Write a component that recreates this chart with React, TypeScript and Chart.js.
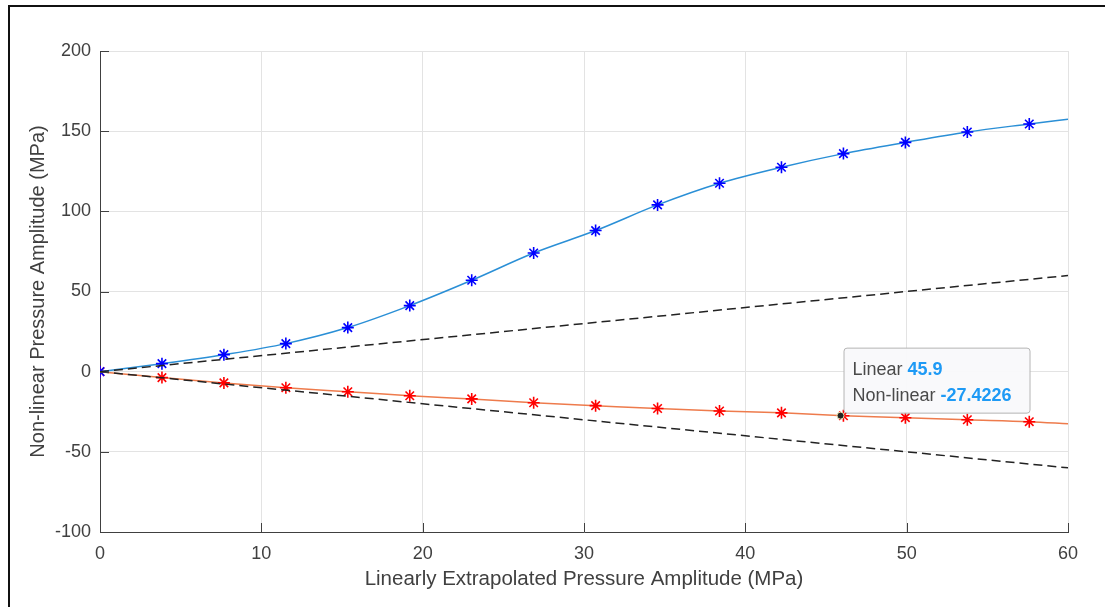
import React, { useEffect, useRef } from "react";
import { Chart, registerables } from "chart.js";

Chart.register(...registerables);

const xMarkers = [0, 3.84, 7.68, 11.52, 15.36, 19.2, 23.04, 26.88, 30.72, 34.56, 38.4, 42.24, 46.08, 49.92, 53.76, 57.6, 60];
const nonlinearPos = [0, 5, 10.6, 17.5, 27.5, 41.2, 57, 74, 88, 104, 117.5, 127.5, 136, 143, 149.5, 154.5, 157.5];
const nonlinearNeg = [0, -3.7, -7, -10, -12.5, -15, -17, -19.4, -21.2, -23, -24.5, -25.7, -27.5, -28.7, -30, -31.2, -32.5];
const linearX = [0, 60];
const linearPos = [0, 60];
const linearNeg = [0, -60];
const cursorX = 45.9;
const cursorY = -27.4226;
const xTicks = [0, 10, 20, 30, 40, 50, 60];
const yTicks = [-100, -50, 0, 50, 100, 150, 200];

const FONT = "'Liberation Sans', Arial, Helvetica, sans-serif";
const TEXT = "#404040";

const pts = (xs: number[], ys: number[]) => xs.map((x, i) => ({ x, y: ys[i] }));
const markerRadius = xMarkers.map((_, i) => (i === xMarkers.length - 1 ? 0 : 6));

const inwardTicks = {
  id: "inwardTicks",
  afterDraw(chart: any) {
    const { ctx, chartArea, scales } = chart;
    ctx.save();
    ctx.strokeStyle = "#404040";
    ctx.lineWidth = 1;
    ctx.beginPath();
    for (const v of xTicks) {
      const px = Math.round(scales.x.getPixelForValue(v)) + 0.5;
      ctx.moveTo(px, chartArea.bottom);
      ctx.lineTo(px, chartArea.bottom - 9);
    }
    for (const v of yTicks) {
      const py = Math.round(scales.y.getPixelForValue(v)) + 0.5;
      ctx.moveTo(chartArea.left, py);
      ctx.lineTo(chartArea.left + 9, py);
    }
    ctx.stroke();
    ctx.restore();
  },
};

const dataTip = {
  id: "dataTip",
  afterDraw(chart: any) {
    const { ctx, scales } = chart;
    const px = scales.x.getPixelForValue(cursorX);
    const py = scales.y.getPixelForValue(cursorY);
    ctx.save();
    ctx.beginPath();
    ctx.arc(px, py, 3.5, 0, Math.PI * 2);
    ctx.fillStyle = "#222222";
    ctx.fill();
    ctx.strokeStyle = "#e8e0b0";
    ctx.lineWidth = 1;
    ctx.stroke();
    const bx = px + 3;
    const bw = 186;
    const bh = 65;
    const by = py - 3 - bh;
    ctx.beginPath();
    (ctx as any).roundRect(bx + 0.5, by + 0.5, bw, bh, 3);
    ctx.fillStyle = "rgba(249,249,251,0.96)";
    ctx.fill();
    ctx.strokeStyle = "#b5b5b5";
    ctx.stroke();
    ctx.textBaseline = "middle";
    ctx.textAlign = "left";
    const lines = [
      ["Linear ", String(cursorX)],
      ["Non-linear ", String(cursorY)],
    ];
    lines.forEach(([label, val], i) => {
      const ty = by + 22 + i * 26;
      ctx.font = `18px ${FONT}`;
      ctx.fillStyle = "#4a4a4a";
      ctx.fillText(label, bx + 9, ty);
      const w = ctx.measureText(label).width;
      ctx.font = `bold 18px ${FONT}`;
      ctx.fillStyle = "#1e9af5";
      ctx.fillText(val, bx + 9 + w, ty);
    });
    ctx.restore();
  },
};

export default function App() {
  const ref = useRef<HTMLCanvasElement | null>(null);
  useEffect(() => {
    if (!ref.current) return;
    const chart = new Chart(ref.current, {
      type: "scatter",
      data: {
        datasets: [
          {
            data: pts(linearX, linearPos),
            showLine: true,
            borderColor: "#222222",
            borderWidth: 1.5,
            borderDash: [9, 5],
            pointRadius: 0,
          },
          {
            data: pts(linearX, linearNeg),
            showLine: true,
            borderColor: "#222222",
            borderWidth: 1.5,
            borderDash: [9, 5],
            pointRadius: 0,
          },
          {
            data: pts(xMarkers, nonlinearPos),
            showLine: true,
            borderColor: "#2a8fd6",
            borderWidth: 1.5,
            cubicInterpolationMode: "monotone",
            pointStyle: "star",
            pointRadius: markerRadius,
            pointBorderColor: "#0000ff",
            pointBackgroundColor: "#0000ff",
            pointBorderWidth: 1.6,
          },
          {
            data: pts(xMarkers, nonlinearNeg),
            showLine: true,
            borderColor: "#ee7b4c",
            borderWidth: 1.5,
            cubicInterpolationMode: "monotone",
            pointStyle: "star",
            pointRadius: markerRadius,
            pointBorderColor: "#ff0000",
            pointBackgroundColor: "#ff0000",
            pointBorderWidth: 1.6,
          },
        ],
      },
      options: {
        animation: false,
        responsive: false,
        maintainAspectRatio: false,
        layout: { padding: { left: 0, right: 37, top: 51, bottom: 0 } },
        plugins: { legend: { display: false }, tooltip: { enabled: false } },
        scales: {
          x: {
            type: "linear",
            min: 0,
            max: 60,
            afterBuildTicks: (s: any) => {
              s.ticks = xTicks.map((v) => ({ value: v }));
            },
            afterFit: (s: any) => {
              s.height = 75;
            },
            ticks: { color: TEXT, font: { family: FONT, size: 18 }, padding: 11, maxRotation: 0 },
            grid: { color: "#e3e3e3", drawTicks: false, lineWidth: 1 },
            border: { color: "#404040", width: 1 },
            title: {
              display: true,
              text: "Linearly Extrapolated Pressure Amplitude (MPa)",
              color: TEXT,
              font: { family: FONT, size: 20.5 },
              padding: { top: 0, bottom: 15 },
            },
          },
          y: {
            type: "linear",
            min: -100,
            max: 200,
            afterBuildTicks: (s: any) => {
              s.ticks = yTicks.map((v) => ({ value: v }));
            },
            afterFit: (s: any) => {
              s.width = 100;
            },
            ticks: { color: TEXT, font: { family: FONT, size: 18 }, padding: 9 },
            grid: { color: "#e3e3e3", drawTicks: false, lineWidth: 1 },
            border: { color: "#404040", width: 1 },
            title: {
              display: true,
              text: "Non-linear Pressure Amplitude (MPa)",
              color: TEXT,
              font: { family: FONT, size: 20 },
              padding: { top: 26, bottom: 0 },
            },
          },
        },
      },
      plugins: [inwardTicks, dataTip],
    } as any);
    return () => chart.destroy();
  }, []);
  return (
    <div style={{ position: "fixed", left: 0, top: 0, width: 1105, height: 607, background: "#fff", overflow: "hidden" }}>
      <canvas ref={ref} width={1105} height={607} style={{ position: "absolute", left: 0, top: 0, width: 1105, height: 607 }} />
      <div
        style={{
          position: "absolute",
          left: 8,
          top: 5,
          width: 1200,
          height: 700,
          borderLeft: "2px solid #111",
          borderTop: "2px solid #111",
          pointerEvents: "none",
        }}
      />
    </div>
  );
}
